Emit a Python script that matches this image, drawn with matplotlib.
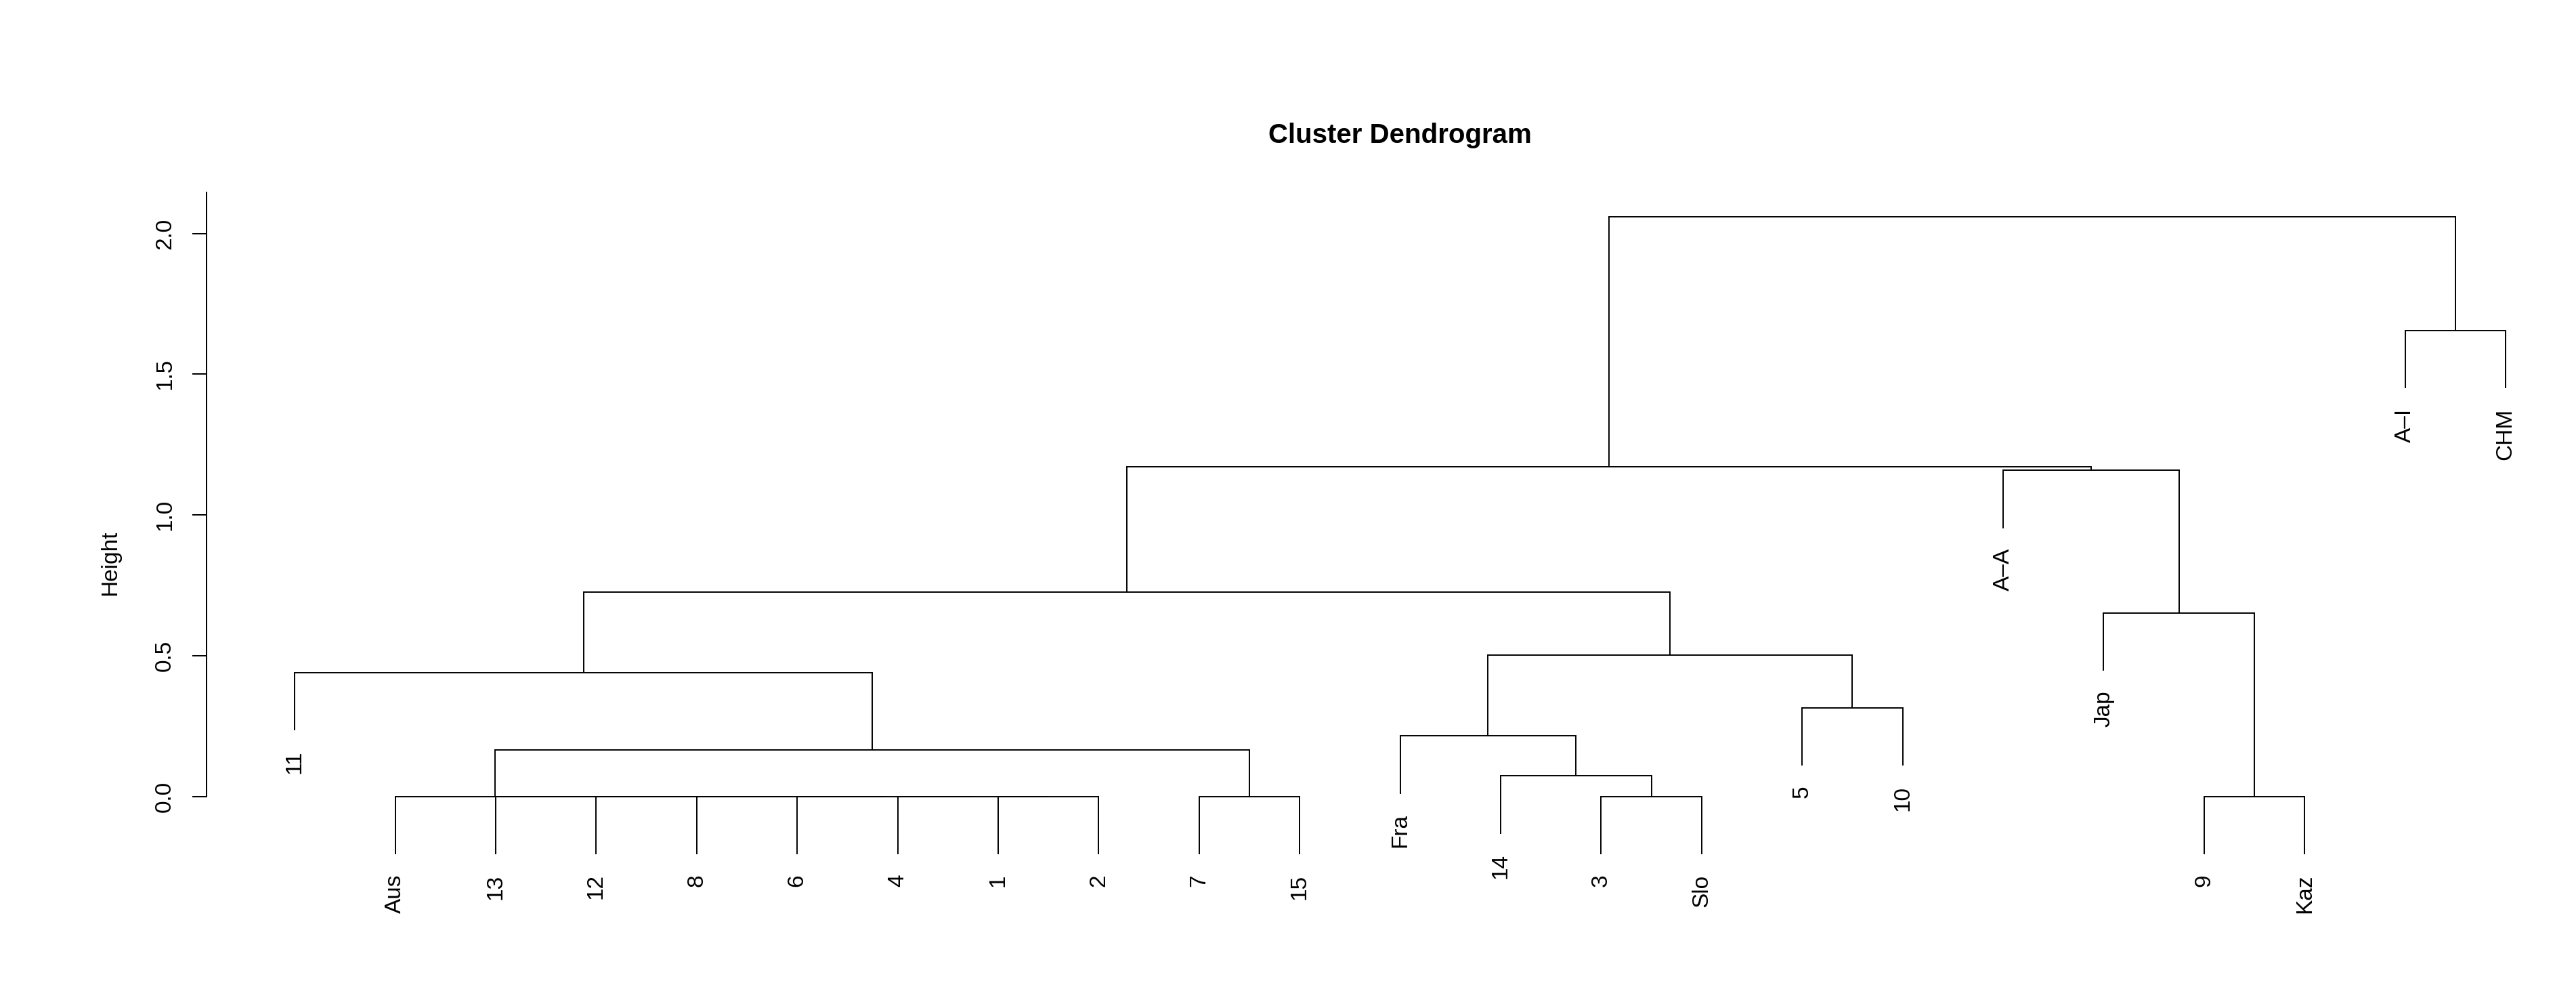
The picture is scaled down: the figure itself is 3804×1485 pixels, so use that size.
import matplotlib
matplotlib.use("Agg")
import matplotlib.pyplot as plt

plt.rcParams["font.family"] = ["Liberation Sans", "DejaVu Sans"]

# leaves in the order they are drawn, left to right
leaves = ["11", "Aus", "13", "12", "8", "6", "4", "1", "2", "7", "15",
          "Fra", "14", "3", "Slo", "5", "10", "A–A", "Jap", "9", "Kaz",
          "A–I", "CHM"]

# merges: ids < len(leaves) are leaves, id n+k is the k-th merge
merge_left = [7, 6, 5, 4, 3, 2, 1, 9, 29, 0,
              13, 12, 11, 15, 35, 32, 19, 18, 17, 38, 21, 42]
merge_right = [8, 23, 24, 25, 26, 27, 28, 10, 30, 31,
               14, 33, 34, 16, 36, 37, 20, 39, 40, 41, 22, 43]
merge_height = [0.0, 0.0, 0.0, 0.0, 0.0, 0.0, 0.0, 0.0, 0.165, 0.44,
                0.0, 0.074, 0.216, 0.315, 0.502, 0.727, 0.0, 0.652, 1.159, 1.172,
                1.655, 2.058]

n = len(leaves)
hang = 0.1 * max(merge_height)

fig = plt.figure(figsize=(38.04, 14.85), dpi=100)
ax = fig.add_axes([0.0801, 0.0, 0.9199, 1.0])

xpos = {i: float(i) for i in range(n)}
lw = 1.4
for k, (a, b, h) in enumerate(zip(merge_left, merge_right, merge_height)):
    node = n + k
    pts = []
    for c in (a, b):
        if c < n:
            yc = h - hang
            ax.annotate(leaves[c], (xpos[c], yc), xytext=(0, -21),
                        textcoords="offset points", rotation=90,
                        ha="center", va="top", fontsize=24)
        else:
            yc = merge_height[c - n]
        pts.append((xpos[c], yc))
    (xa, ya), (xb, yb) = pts
    ax.plot([xa, xa, xb, xb], [ya, h, h, yb], color="black", lw=lw,
            solid_joinstyle="miter", solid_capstyle="butt")
    xpos[node] = (xa + xb) / 2

ax.set_xlim(-0.879, 22.70)
ax.set_ylim(-0.744, 2.829)
for s in ["top", "right", "bottom"]:
    ax.spines[s].set_visible(False)
ax.spines["left"].set_bounds(0, 2.145)
ax.spines["left"].set_linewidth(1.44)
ax.set_xticks([])
ax.set_yticks([0.0, 0.5, 1.0, 1.5, 2.0])
ax.set_yticklabels(["0.0", "0.5", "1.0", "1.5", "2.0"], rotation=90,
                   ha="center", va="center", fontsize=24)
ax.tick_params(axis="y", length=15, width=1.44, pad=29)
ax.patch.set_visible(False)

fig.text(0.5434, 0.865, "Cluster Dendrogram", ha="center", va="center",
         fontsize=29, fontweight="bold")
fig.text(0.0427, 0.4406, "Height", ha="center", va="center",
         rotation=90, fontsize=24)

fig.savefig("out.png", dpi=100, facecolor="white")
